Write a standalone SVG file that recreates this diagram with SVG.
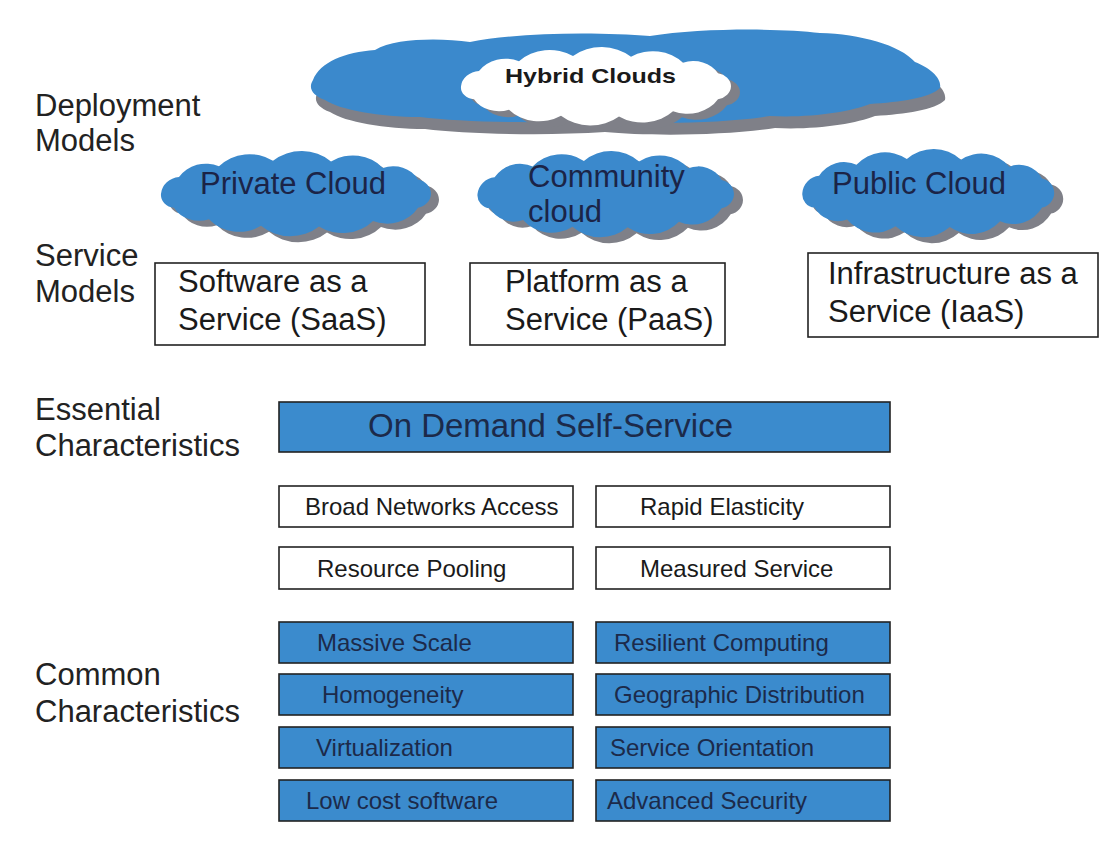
<svg xmlns="http://www.w3.org/2000/svg" width="1103" height="842" viewBox="0 0 1103 842">
<defs>
<path id="cloud" d="M10,45 A20,20 0 0 1 28,27 A32,32 0 0 1 68,15.5 A42,42 0 0 1 122,9.5 A44,44 0 0 1 180,10.2 A40,40 0 0 1 232,17.4 A28,28 0 0 1 267,29.8 A16,16 0 0 1 280,45 A16,16 0 0 1 267,60.2 A36,36 0 0 1 222,74.5 A42,42 0 0 1 168,80.5 A44,44 0 0 1 110,79.8 A40,40 0 0 1 58,72.6 A29,29 0 0 1 23,60.2 A14,14 0 0 1 10,45 Z"/>
<path id="bigcloud" d="M313,80 C320,62 345,52 375,50 C395,38 440,38 470,42 C520,32 600,32 650,36 C700,28 780,28 820,33 C860,34 900,45 915,62 C930,68 942,78 940,88 C930,98 900,102 870,104 C850,112 810,118 770,116 C720,124 640,124 600,120 C540,124 460,122 420,117 C380,117 340,110 325,100 C312,95 308,88 313,80 Z"/>
<style>
.blue{fill:#3b89cc}
.shadow{fill:#7f8088}
.white{fill:#ffffff}
.lbl{font-family:"Liberation Sans",Arial,sans-serif;font-size:31px;fill:#222}
.ctext{font-family:"Liberation Sans",Arial,sans-serif;font-size:31px;fill:#1b2447}
.svc{font-family:"Liberation Sans",Arial,sans-serif;font-size:31px;fill:#1a1a1a}
.box{stroke:#222;stroke-width:1.6}
.bb{fill:#3b8bcd}
.wb{fill:#fff}
.t{font-family:"Liberation Sans",Arial,sans-serif;font-size:24px}
.tb{fill:#1c2a4a}
.tw{fill:#1a1a1a}
</style>
</defs>
<rect width="1103" height="842" fill="#fff"/>

<g id="labels">
<text class="lbl" x="35" y="116">Deployment</text>
<text class="lbl" x="35" y="151">Models</text>
<text class="lbl" x="35" y="266">Service</text>
<text class="lbl" x="35" y="302">Models</text>
<text class="lbl" x="35" y="420">Essential</text>
<text class="lbl" x="35" y="456">Characteristics</text>
<text class="lbl" x="35" y="685">Common</text>
<text class="lbl" x="35" y="722">Characteristics</text>
</g>

<g id="hybrid-clouds">
<use href="#bigcloud" class="shadow" transform="translate(5,12)"/>
<use href="#bigcloud" class="blue"/>
<use href="#cloud" class="shadow" transform="translate(460,54) scale(1.0,0.85)"/>
<use href="#cloud" class="white" transform="translate(451,48) scale(1.0,0.85)"/>
<text x="505" y="83" font-family="'Liberation Sans',Arial,sans-serif" font-size="21" font-weight="bold" fill="#1a1a1a" textLength="171" lengthAdjust="spacingAndGlyphs">Hybrid Clouds</text>
</g>

<g id="private-cloud">
<use href="#cloud" class="shadow" transform="translate(159,158) scale(1.0,0.925)"/>
<use href="#cloud" class="blue" transform="translate(151,152) scale(1.0,0.925)"/>
<text class="ctext" x="200" y="194">Private Cloud</text>
</g>

<g id="community-cloud">
<use href="#cloud" class="shadow" transform="translate(477,158) scale(0.95,0.936)"/>
<use href="#cloud" class="blue" transform="translate(468,152) scale(0.95,0.936)"/>
<text class="ctext" x="528" y="187">Community</text>
<text class="ctext" x="528" y="222">cloud</text>
</g>

<g id="public-cloud">
<use href="#cloud" class="shadow" transform="translate(802,156) scale(0.933,0.957)"/>
<use href="#cloud" class="blue" transform="translate(793,150) scale(0.933,0.957)"/>
<text class="ctext" x="832" y="194">Public Cloud</text>
</g>

<g id="saas">
<rect class="box wb" x="155" y="263" width="270" height="82"/>
<text class="svc" x="178" y="292">Software as a</text>
<text class="svc" x="178" y="330">Service (SaaS)</text>
</g>
<g id="paas">
<rect class="box wb" x="470" y="263" width="255" height="82"/>
<text class="svc" x="505" y="292">Platform as a</text>
<text class="svc" x="505" y="330">Service (PaaS)</text>
</g>
<g id="iaas">
<rect class="box wb" x="808" y="253" width="290" height="84"/>
<text class="svc" x="828" y="284">Infrastructure as a</text>
<text class="svc" x="828" y="322">Service (IaaS)</text>
</g>

<g id="on-demand">
<rect class="box bb" x="279" y="402" width="611" height="50"/>
<text x="368" y="437" font-family="'Liberation Sans',Arial,sans-serif" font-size="33" fill="#1c2a4a">On Demand Self-Service</text>
</g>

<g id="broad-network"><rect class="box wb" x="279" y="486" width="294" height="41"/><text class="t tw" x="305" y="515">Broad Networks Access</text></g>
<g id="rapid-elasticity"><rect class="box wb" x="596" y="486" width="294" height="41"/><text class="t tw" x="640" y="515">Rapid Elasticity</text></g>
<g id="resource-pooling"><rect class="box wb" x="279" y="547" width="294" height="42"/><text class="t tw" x="317" y="577">Resource Pooling</text></g>
<g id="measured-service"><rect class="box wb" x="596" y="547" width="294" height="42"/><text class="t tw" x="640" y="577">Measured Service</text></g>

<g id="massive-scale"><rect class="box bb" x="279" y="622" width="294" height="41"/><text class="t tb" x="317" y="651">Massive Scale</text></g>
<g id="resilient-computing"><rect class="box bb" x="596" y="622" width="294" height="41"/><text class="t tb" x="614" y="651">Resilient Computing</text></g>
<g id="homogeneity"><rect class="box bb" x="279" y="674" width="294" height="41"/><text class="t tb" x="322" y="703">Homogeneity</text></g>
<g id="geographic-distribution"><rect class="box bb" x="596" y="674" width="294" height="41"/><text class="t tb" x="614" y="703">Geographic Distribution</text></g>
<g id="virtualization"><rect class="box bb" x="279" y="727" width="294" height="41"/><text class="t tb" x="316" y="756">Virtualization</text></g>
<g id="service-orientation"><rect class="box bb" x="596" y="727" width="294" height="41"/><text class="t tb" x="610" y="756">Service Orientation</text></g>
<g id="low-cost-software"><rect class="box bb" x="279" y="780" width="294" height="41"/><text class="t tb" x="306" y="809">Low cost software</text></g>
<g id="advanced-security"><rect class="box bb" x="596" y="780" width="294" height="41"/><text class="t tb" x="607" y="809">Advanced Security</text></g>

<g id="connectors"/>
</svg>
